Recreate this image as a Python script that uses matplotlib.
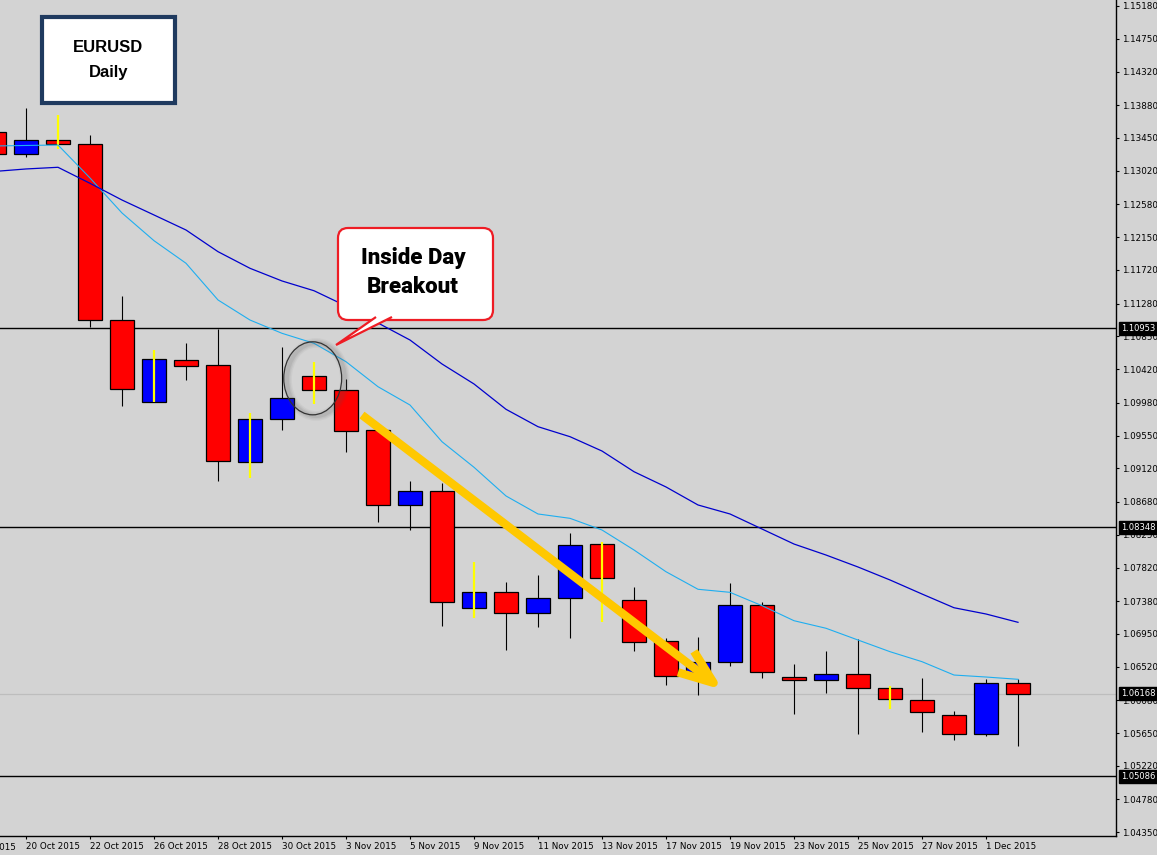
import numpy as np
import matplotlib.pyplot as plt
from matplotlib.patches import Ellipse, FancyBboxPatch, Polygon, Rectangle

# EURUSD daily bars, 19 Oct - 2 Dec 2015
dates = ['19 Oct', '20 Oct', '21 Oct', '22 Oct', '23 Oct', '26 Oct', '27 Oct', '28 Oct',
         '29 Oct', '30 Oct', '2 Nov', '3 Nov', '4 Nov', '5 Nov', '6 Nov', '9 Nov',
         '10 Nov', '11 Nov', '12 Nov', '13 Nov', '16 Nov', '17 Nov', '18 Nov', '19 Nov',
         '20 Nov', '23 Nov', '24 Nov', '25 Nov', '26 Nov', '27 Nov', '30 Nov', '1 Dec', '2 Dec']
opens = [1.13529, 1.13236, 1.13420, 1.13367, 1.11061, 1.09994, 1.10536, 1.10471,
         1.09199, 1.09763, 1.10327, 1.10143, 1.09619, 1.08636, 1.08819, 1.07286,
         1.07495, 1.07220, 1.07417, 1.08128, 1.07394, 1.06857, 1.06402, 1.06578,
         1.07329, 1.06385, 1.06342, 1.06421, 1.06237, 1.06080, 1.05883, 1.05634, 1.06303]
highs = [1.13620, 1.13839, 1.13751, 1.13489, 1.11379, 1.10671, 1.10763, 1.10943,
         1.09842, 1.10711, 1.10514, 1.10287, 1.09636, 1.08954, 1.08924, 1.07896,
         1.07634, 1.07722, 1.08277, 1.08159, 1.07569, 1.06900, 1.06913, 1.07621,
         1.07368, 1.06556, 1.06726, 1.06883, 1.06267, 1.06372, 1.05940, 1.06359, 1.06359]
lows = [1.13201, 1.13205, 1.13302, 1.10977, 1.09941, 1.09990, 1.10282, 1.08954,
        1.08994, 1.09627, 1.09967, 1.09338, 1.08421, 1.08316, 1.07058, 1.07163,
        1.06739, 1.07045, 1.06896, 1.07110, 1.06726, 1.06280, 1.06149, 1.06529,
        1.06376, 1.05900, 1.06176, 1.05642, 1.05966, 1.05668, 1.05563, 1.05616, 1.05485]
closes = [1.13240, 1.13420, 1.13367, 1.11061, 1.10156, 1.10549, 1.10465, 1.09212,
          1.09763, 1.10038, 1.10143, 1.09606, 1.08636, 1.08819, 1.07364, 1.07495,
          1.07220, 1.07417, 1.08115, 1.07679, 1.06848, 1.06402, 1.06582, 1.07329,
          1.06455, 1.06342, 1.06421, 1.06237, 1.06093, 1.05922, 1.05634, 1.06303, 1.06168]
# bars whose wick is painted yellow on the chart
yellow_wick = ['21 Oct', '26 Oct', '29 Oct', '2 Nov', '9 Nov', '13 Nov', '26 Nov']

ma_fast = [1.13345, 1.13352, 1.13358, 1.12926, 1.12467, 1.12104, 1.11808, 1.11327,
           1.11064, 1.10890, 1.10759, 1.10518, 1.10190, 1.09950, 1.09469, 1.09134,
           1.08758, 1.08522, 1.08465, 1.08312, 1.08050, 1.07765, 1.07535, 1.07495,
           1.07320, 1.07123, 1.07024, 1.06870, 1.06717, 1.06586, 1.06411, 1.06385, 1.06355]
ma_slow = [1.13011, 1.13044, 1.13066, 1.12856, 1.12637, 1.12441, 1.12244, 1.11960,
           1.11742, 1.11576, 1.11448, 1.11248, 1.11025, 1.10802, 1.10488, 1.10226,
           1.09894, 1.09666, 1.09535, 1.09347, 1.09076, 1.08876, 1.08640, 1.08522,
           1.08325, 1.08128, 1.07984, 1.07827, 1.07657, 1.07473, 1.07293, 1.07211, 1.07102]

levels = [1.10953, 1.08348, 1.05086]
bid = 1.06168
ytick_vals = [1.15180, 1.14750, 1.14320, 1.13880, 1.13450, 1.13020, 1.12580, 1.12150,
              1.11720, 1.11280, 1.10850, 1.10420, 1.09980, 1.09550, 1.09120, 1.08680,
              1.08250, 1.07820, 1.07380, 1.06950, 1.06520, 1.06080, 1.05650, 1.05220,
              1.04780, 1.04350]

BG = '#d3d3d3'
plt.rcParams['font.family'] = 'DejaVu Sans'

fig = plt.figure(figsize=(11.57, 8.55), dpi=100, facecolor=BG)
ax = fig.add_axes([0, 19 / 855, 1116 / 1157, 836 / 855], facecolor=BG)

x = np.arange(len(dates)) - 1          # 19 Oct sits just off the left edge
o = np.array(opens); c = np.array(closes)
h = np.array(highs); l = np.array(lows)
up = c >= o
yel = np.array([d in yellow_wick for d in dates])

# wicks
ax.vlines(x[~yel], l[~yel], h[~yel], color='black', lw=0.8, zorder=2)
# bodies
ax.bar(x, np.abs(c - o), bottom=np.minimum(o, c), width=0.75,
       color=np.where(up, '#0000ff', '#ff0000'), edgecolor='black', linewidth=0.9, zorder=3)
ax.vlines(x[yel], l[yel], h[yel], color='#ffff00', lw=1.6, zorder=4)

# moving averages
ax.plot(x, ma_fast, color='#1eaef0', lw=0.8, zorder=5)
ax.plot(x, ma_slow, color='#0000cd', lw=0.9, zorder=5)

# price levels
for lv in levels:
    ax.axhline(lv, color='black', lw=1.0, zorder=1)
ax.axhline(bid, color='#bdbdbd', lw=0.9, zorder=1)

ax.set_xlim(-0.8125, 34.0625)
ax.set_ylim(1.043012, 1.152586)

for s in ['left', 'top']:
    ax.spines[s].set_visible(False)
for s in ['right', 'bottom']:
    ax.spines[s].set_color('black')
    ax.spines[s].set_linewidth(1.0)

ax.yaxis.tick_right()
ax.set_yticks(ytick_vals)
ax.set_yticklabels([f'{v:.5f}' for v in ytick_vals])
ax.tick_params(axis='y', direction='out', length=2.5, pad=2, labelsize=6.3, colors='black')

tick_pos = x[1::2]
ax.set_xticks(tick_pos)
ax.set_xticklabels([d + ' 2015' for d in dates[1::2]], ha='left')
ax.tick_params(axis='x', direction='out', length=2.5, pad=2, labelsize=6.3, colors='black')
# label of the bar before the window, only its tail shows at the left edge
ax.annotate('16 Oct 2015', xy=(-2, 0), xycoords=('data', 'axes fraction'),
            xytext=(0, -5.2), textcoords='offset points', ha='left', va='top',
            fontsize=6.3, annotation_clip=False)

# highlighted price labels
for lv in levels + [bid]:
    ax.annotate(f'{lv:.5f}', xy=(1, lv), xycoords=('axes fraction', 'data'),
                xytext=(5, 0), textcoords='offset pixels', ha='left', va='center',
                fontsize=6.0, color='white', annotation_clip=False, zorder=10,
                bbox=dict(boxstyle='square,pad=0.25', fc='black', ec='black'))

# inside-day circle with a soft shadow
for lw_, a_ in [(7, 0.06), (5, 0.08), (3, 0.10)]:
    ax.add_patch(Ellipse((9.06, 1.10285), 1.81, 0.00957, fill=False,
                         ec='#555555', lw=lw_, alpha=a_, zorder=6))
ax.add_patch(Ellipse((8.96, 1.10300), 1.81, 0.00957, fill=False,
                     ec='#333333', lw=0.9, zorder=6))

# trend arrow
ax.annotate('', xy=(21.78, 1.06215), xytext=(10.5, 1.09819),
            arrowprops=dict(arrowstyle='->,head_length=2.5,head_width=0.95',
                            mutation_scale=10, color='#ffc800', lw=6,
                            shrinkA=0, shrinkB=0, capstyle='butt'),
            zorder=7)

# overlay in pixel coordinates for the text boxes
ov = fig.add_axes([0, 0, 1, 1], zorder=5)
ov.set_xlim(0, 1157)
ov.set_ylim(855, 0)
ov.axis('off')

ov.add_patch(Rectangle((42, 17), 133, 86, fc='white', ec='#1f3a5f', lw=3))
ov.text(108.5, 48, 'EURUSD', ha='center', va='center', fontsize=12,
        fontweight='bold', family='Liberation Sans')
ov.text(108.5, 72, 'Daily', ha='center', va='center', fontsize=12,
        fontweight='bold', family='Liberation Sans')

ov.add_patch(FancyBboxPatch((338, 228), 155, 92, boxstyle='round,pad=0,rounding_size=10',
                            fc='white', ec='#ee1c24', lw=1.6))
ov.add_patch(Polygon([(376, 317), (336, 345), (392, 317)], closed=False,
                     fc='white', ec='#ee1c24', lw=1.6, joinstyle='miter'))
for txt, ty in [('Inside Day', 258), ('Breakout', 287)]:
    ov.text(413, ty, txt, ha='center', va='center', fontsize=16,
            fontweight='black', fontstretch='condensed', family=['Roboto', 'DejaVu Sans'])

fig.savefig('out.png', dpi=100, facecolor=BG)
